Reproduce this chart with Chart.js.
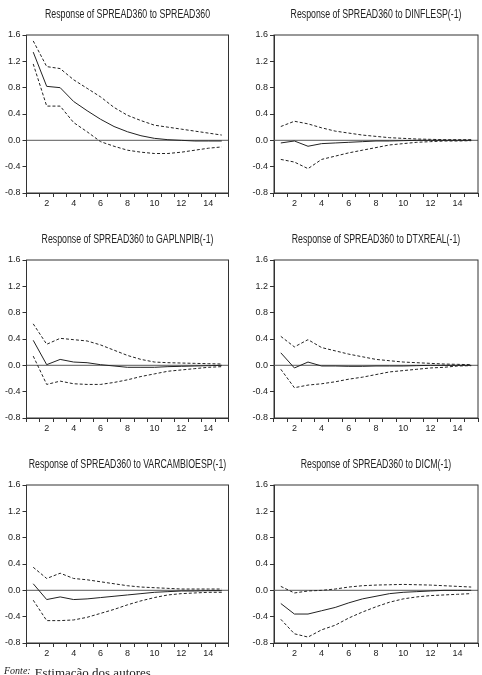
<!DOCTYPE html>
<html>
<head>
<meta charset="utf-8">
<script src="https://cdn.jsdelivr.net/npm/chart.js@4.4.1/dist/chart.umd.min.js"></script>
<style>
  body { margin: 0; background: #fff; width: 482px; height: 675px; overflow: hidden; position: relative; }
  .panel { position: absolute; height: 215px; }
  .fonte { position: absolute; left: 4px; top: 663px; font-family: 'Liberation Serif', 'DejaVu Serif', serif; color: #222; white-space: nowrap; }
  .fonte i { font-size: 10px; vertical-align: 3px; }
  .fonte span { font-size: 13px; }
</style>
</head>
<body>
<div class="panel" style="left:0;top:0;width:236px"><canvas id="c0"></canvas></div>
<div class="panel" style="left:241px;top:0;width:241px"><canvas id="c1"></canvas></div>
<div class="panel" style="left:0;top:225px;width:236px"><canvas id="c2"></canvas></div>
<div class="panel" style="left:241px;top:225px;width:241px"><canvas id="c3"></canvas></div>
<div class="panel" style="left:0;top:450px;width:236px"><canvas id="c4"></canvas></div>
<div class="panel" style="left:241px;top:450px;width:241px"><canvas id="c5"></canvas></div>
<div class="fonte"><i>Fonte:</i> <span>Estimação dos autores</span></div>
<script>
    // periods 1..15
    const periods = ['1','2','3','4','5','6','7','8','9','10','11','12','13','14','15'];
    const yTicks = [-0.8, -0.4, 0.0, 0.4, 0.8, 1.2, 1.6];

    const titles = [
        'Response of SPREAD360 to SPREAD360',
        'Response of SPREAD360 to DINFLESP(-1)',
        'Response of SPREAD360 to GAPLNPIB(-1)',
        'Response of SPREAD360 to DTXREAL(-1)',
        'Response of SPREAD360 to VARCAMBIOESP(-1)',
        'Response of SPREAD360 to DICM(-1)'
    ];

    // SPREAD360 shock
    const spreadMid = [1.34, 0.82, 0.80, 0.59, 0.45, 0.32, 0.21, 0.13, 0.07, 0.03, 0.01, 0.0, -0.01, -0.01, -0.01];
    const spreadUp = [1.51, 1.12, 1.09, 0.92, 0.79, 0.66, 0.50, 0.38, 0.30, 0.23, 0.20, 0.17, 0.14, 0.11, 0.08];
    const spreadLo = [1.16, 0.52, 0.52, 0.27, 0.13, -0.02, -0.09, -0.15, -0.18, -0.20, -0.20, -0.18, -0.15, -0.12, -0.10];

    // DINFLESP(-1) shock
    const inflMid = [-0.04, -0.01, -0.09, -0.05, -0.04, -0.03, -0.02, -0.01, -0.01, -0.005, 0, 0, 0, 0, 0];
    const inflUp = [0.21, 0.29, 0.25, 0.19, 0.14, 0.11, 0.08, 0.06, 0.04, 0.03, 0.02, 0.015, 0.01, 0.01, 0.01];
    const inflLo = [-0.29, -0.33, -0.43, -0.29, -0.24, -0.19, -0.15, -0.11, -0.07, -0.05, -0.03, -0.02, -0.01, -0.01, -0.005];

    // GAPLNPIB(-1) shock
    const gapMid = [0.38, 0.01, 0.09, 0.05, 0.04, 0.01, -0.01, -0.03, -0.03, -0.03, -0.02, -0.015, -0.01, -0.005, 0];
    const gapUp = [0.63, 0.32, 0.41, 0.39, 0.37, 0.31, 0.23, 0.15, 0.09, 0.05, 0.04, 0.035, 0.03, 0.025, 0.02];
    const gapLo = [0.14, -0.29, -0.24, -0.28, -0.29, -0.29, -0.26, -0.22, -0.17, -0.13, -0.09, -0.07, -0.05, -0.03, -0.02];

    // DTXREAL(-1) shock
    const txMid = [0.19, -0.04, 0.05, -0.01, -0.01, -0.015, -0.015, -0.01, -0.01, -0.01, -0.005, 0, 0, 0, 0];
    const txUp = [0.44, 0.28, 0.39, 0.27, 0.22, 0.17, 0.13, 0.09, 0.07, 0.05, 0.04, 0.03, 0.02, 0.015, 0.01];
    const txLo = [-0.06, -0.34, -0.30, -0.28, -0.25, -0.21, -0.18, -0.14, -0.10, -0.08, -0.06, -0.04, -0.03, -0.01, -0.005];

    // VARCAMBIOESP(-1) shock
    const cambioMid = [0.10, -0.14, -0.10, -0.14, -0.13, -0.11, -0.09, -0.07, -0.05, -0.03, -0.02, -0.01, -0.01, -0.005, -0.005];
    const cambioUp = [0.35, 0.18, 0.26, 0.18, 0.16, 0.13, 0.10, 0.07, 0.05, 0.04, 0.03, 0.02, 0.02, 0.02, 0.02];
    const cambioLo = [-0.15, -0.46, -0.46, -0.45, -0.41, -0.35, -0.29, -0.22, -0.16, -0.11, -0.07, -0.05, -0.04, -0.03, -0.03];

    // DICM(-1) shock
    const icmMid = [-0.20, -0.36, -0.36, -0.31, -0.26, -0.19, -0.13, -0.09, -0.05, -0.03, -0.02, -0.01, 0, 0, 0];
    const icmUp = [0.06, -0.04, -0.01, 0.0, 0.02, 0.05, 0.07, 0.08, 0.085, 0.09, 0.085, 0.08, 0.07, 0.06, 0.05];
    const icmLo = [-0.44, -0.66, -0.71, -0.60, -0.53, -0.42, -0.33, -0.25, -0.18, -0.13, -0.10, -0.08, -0.07, -0.06, -0.05];

    const series = [
        [spreadMid, spreadUp, spreadLo],
        [inflMid, inflUp, inflLo],
        [gapMid, gapUp, gapLo],
        [txMid, txUp, txLo],
        [cambioMid, cambioUp, cambioLo],
        [icmMid, icmUp, icmLo]
    ];

    const FONT = "'Liberation Sans', Arial, sans-serif";
    const INK = '#222';

    // frame box, zero line and a condensed title (EViews uses a narrow face)
    const framePlugin = {
        id: 'frame',
        beforeDatasetsDraw(chart) {
            const { ctx, chartArea: a, scales } = chart;
            const y0 = scales.y.getPixelForValue(0);
            ctx.save();
            ctx.strokeStyle = '#7a7a7a';
            ctx.lineWidth = 1.3;
            ctx.beginPath();
            ctx.moveTo(a.left, y0);
            ctx.lineTo(a.right, y0);
            ctx.stroke();
            ctx.restore();
        },
        afterDraw(chart, args, opts) {
            const { ctx, chartArea: a } = chart;
            ctx.save();
            ctx.strokeStyle = '#333';
            ctx.lineWidth = 1;
            ctx.strokeRect(a.left, a.top, a.right - a.left, a.bottom - a.top);
            // title
            ctx.translate((a.left + a.right) / 2, 15);
            ctx.scale(0.73, 1);
            ctx.fillStyle = INK;
            ctx.font = '12px ' + FONT;
            ctx.textAlign = 'center';
            ctx.textBaseline = 'middle';
            ctx.fillText(opts.text, 0, 0);
            ctx.restore();
        }
    };

    function makeChart(i) {
        const right = i % 2 === 1;
        const [mid, up, lo] = series[i];
        const band = (data) => ({
            data: data, borderColor: INK, borderWidth: 1, borderDash: [3, 2],
            pointRadius: 0, tension: 0, fill: false
        });
        new Chart(document.getElementById('c' + i), {
            type: 'line',
            data: {
                labels: periods,
                datasets: [
                    { data: mid, borderColor: INK, borderWidth: 1, pointRadius: 0, tension: 0, fill: false },
                    band(up),
                    band(lo)
                ]
            },
            plugins: [framePlugin],
            options: {
                responsive: true,
                maintainAspectRatio: false,
                animation: false,
                events: [],
                layout: { padding: { left: 0, right: right ? 4 : 7.5, top: 35, bottom: 0 } },
                plugins: {
                    legend: { display: false },
                    tooltip: { enabled: false },
                    frame: { text: titles[i] }
                },
                scales: {
                    x: {
                        type: 'category',
                        offset: true,
                        afterFit: (s) => { s.height = 22; },
                        grid: { offset: true, drawOnChartArea: false, drawTicks: true, tickLength: 4, color: '#333' },
                        border: { color: '#333' },
                        ticks: {
                            autoSkip: false, maxRotation: 0, padding: 1,
                            color: INK, font: { family: FONT, size: 9 },
                            callback: (v, idx) => (idx + 1) % 2 === 0 ? periods[idx] : ''
                        }
                    },
                    y: {
                        min: yTicks[0],
                        max: yTicks[yTicks.length - 1],
                        afterFit: (s) => { s.width = right ? 33 : 26.5; },
                        afterBuildTicks: (s) => { s.ticks = yTicks.map(v => ({ value: v })); },
                        grid: { drawOnChartArea: false, drawTicks: true, tickLength: 4, color: '#333' },
                        border: { color: '#333' },
                        ticks: {
                            padding: 2, color: INK, font: { family: FONT, size: 9 },
                            callback: (v) => v.toFixed(1)
                        }
                    }
                }
            }
        });
    }

    for (let i = 0; i < 6; i++) makeChart(i);
</script>
</body>
</html>
